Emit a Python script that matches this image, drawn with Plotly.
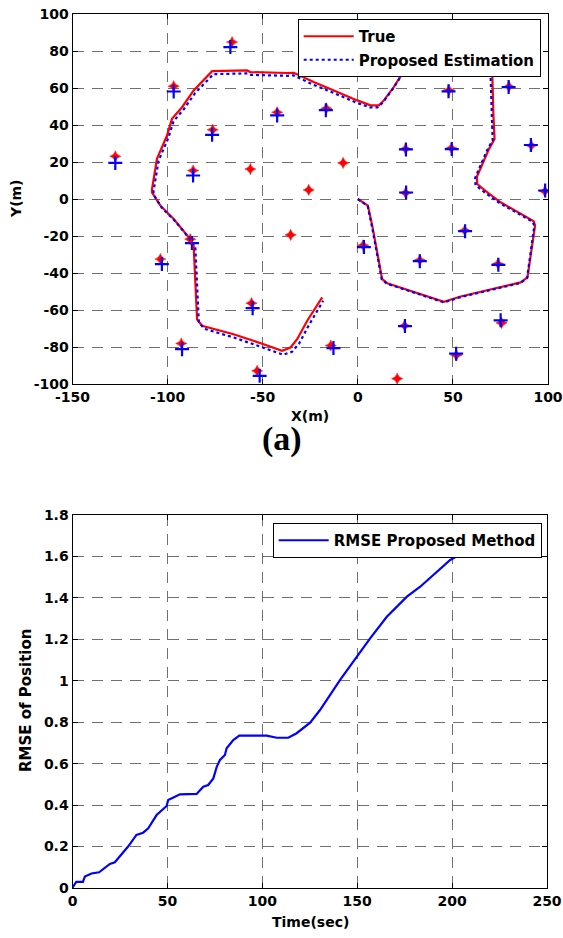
import plotly.graph_objects as go

# ---------------- data: trajectory (top panel) ----------------
true_x = [0, 5.3, 7.6, 10.2, 12.8, 15.5, 45.3, 54.1, 85.6, 89.2, 93.2, 92.5, 75.1, 68.1, 62.8,
          62.6, 69.0, 71.9, 71.3, 70.7, 70.5, 62.0, 35.0, 26.0, 23.4, 18.9, 13.7, 11.1, 6.7,
          -0.3, -12.6, -23.2, -33.7, -37.2, -56.5, -58.2, -76.6, -82.8, -86.3, -92.4, -97.7,
          -100.3, -105.6, -108.2, -108.2, -103.8, -96.8, -88.1, -86.3, -85.4, -84.5, -81.9,
          -65.3, -49.5, -39.8, -35.4, -31.9, -26.6, -18.7]
true_y = [0, -3.6, -14.4, -28.9, -43.3, -45.5, -55.6, -52.7, -45.1, -42.4, -14.4, -12.0, -1.8,
          3.6, 8.1, 12.0, 27.1, 32.5, 45.2, 67.7, 74.0, 80.0, 78.0, 72.0, 67.7, 60.5, 53.3,
          50.6, 50.6, 53.3, 58.7, 63.2, 68.2, 68.1, 68.6, 69.5, 69.1, 62.3, 58.7, 49.6, 43.3,
          34.3, 21.7, 5.4, 3.6, -3.6, -10.8, -21.7, -25.2, -45.1, -65.0, -68.5, -73.1, -78.5,
          -82.1, -80.3, -75.8, -65.8, -53.2]

est_x = [0, 5.2, 7.4, 10.0, 12.6, 15.4, 45.3, 54.1, 85.5, 89.0, 92.8, 92.0, 74.6, 67.4, 61.9,
         61.7, 68.0, 70.9, 70.4, 69.8, 69.6, 61.0, 34.5, 25.5, 22.9, 18.4, 13.2, 10.4, 6.3,
         -0.6, -12.8, -23.4, -33.8, -37.0, -56.2, -57.8, -75.9, -82.0, -85.5, -91.6, -96.9,
         -99.6, -104.8, -107.4, -107.4, -103.0, -96.0, -87.2, -85.4, -84.5, -83.6, -80.9,
         -64.8, -49.0, -39.3, -34.6, -30.9, -25.6, -18.2]
est_y = [0, -3.8, -14.6, -29.1, -43.5, -45.8, -55.9, -53.0, -45.4, -42.7, -14.6, -12.3, -2.2,
         3.0, 7.5, 11.4, 26.4, 31.8, 44.5, 67.0, 73.2, 79.0, 76.8, 70.8, 66.5, 59.5, 52.2,
         49.5, 49.5, 52.0, 57.4, 61.8, 66.8, 66.6, 67.1, 67.9, 67.5, 61.0, 57.3, 48.4, 42.0,
         33.0, 20.5, 4.2, 2.4, -4.8, -12.0, -23.0, -26.6, -46.5, -66.4, -70.1, -75.0, -80.6,
         -84.2, -82.6, -78.2, -68.0, -55.0]

# landmarks
lm_true_x = [-127.5, -96.8, -66.1, -76.3, -86.6, -56.5, -42.4, -16.5, -7.7, -25.8, 25.1, 49.2,
             47.9, 79.5, 91.3, 98.3, 25.1, -88.1, -103.8, -92.8, -55.9, -52.9, -35.3, 2.8,
             32.6, 56.2, 73.7, 75.6, 24.6, 51.8, -14.2, 20.7]
lm_true_y = [23.1, 61.0, 84.8, 37.4, 15.4, 16.2, 46.9, 49.0, 19.5, 4.9, 27.1, 27.5, 58.9, 60.8,
             28.9, 4.2, 3.3, -21.7, -32.5, -78.1, -56.3, -92.9, -19.4, -25.0, -33.0, -17.0,
             -35.0, -67.0, -68.5, -84.5, -79.2, -97.1]
lm_est_x = [-127.5, -96.8, -67.0, -76.6, -86.6, -42.4, -16.8, 25.3, 49.4, 47.7, 79.3, 91.0,
            98.5, 25.4, -87.2, -103.0, -92.4, -55.3, -51.6, 3.2, 32.6, 56.4, 73.9, 75.1, 24.8,
            51.7, -12.8]
lm_est_y = [19.5, 58.1, 82.1, 34.7, 12.7, 45.2, 48.0, 26.8, 27.0, 58.2, 60.5, 29.2, 4.6, 3.5,
            -23.8, -35.2, -81.2, -59.0, -95.6, -26.0, -33.6, -17.4, -35.6, -65.6, -68.7, -83.6,
            -80.6]

# ---------------- data: RMSE (bottom panel) ----------------
rmse_t = [0, 0.3, 2, 5.5, 6.5, 10, 14, 19.7, 22.3, 25.8, 29.3, 33.7, 37.2, 39.9, 44.3, 49.6,
          50.4, 54, 56.6, 65.4, 68.9, 71.5, 74.2, 76, 77.7, 80.3, 81.2, 84.7, 87.9, 102.3,
          107.6, 113.7, 118.1, 125.2, 130.4, 141, 149.3, 156.8, 165.6, 176.2, 183.2, 190,
          199, 205.2, 212]
rmse_v = [0, 0.006, 0.03, 0.03, 0.055, 0.07, 0.076, 0.116, 0.124, 0.16, 0.2, 0.256, 0.267,
          0.288, 0.352, 0.396, 0.425, 0.44, 0.452, 0.454, 0.489, 0.497, 0.529, 0.585, 0.618,
          0.642, 0.674, 0.714, 0.735, 0.735, 0.725, 0.725, 0.747, 0.798, 0.859, 1.004, 1.11,
          1.205, 1.309, 1.406, 1.454, 1.51, 1.583, 1.615, 1.655]

x1_ticks = [-150, -100, -50, 0, 50, 100]
x1_text = ["-150", "-100", "-50", "0", "50", "100"]
y1_ticks = [-100, -80, -60, -40, -20, 0, 20, 40, 60, 80, 100]
y1_text = ["-100", "-80", "-60", "-40", "-20", "0", "20", "40", "60", "80", "100"]
x2_ticks = [0, 50, 100, 150, 200, 250]
y2_ticks = [0, 0.2, 0.4, 0.6, 0.8, 1, 1.2, 1.4, 1.6, 1.8]
y2_text = ["0", "0.2", "0.4", "0.6", "0.8", "1", "1.2", "1.4", "1.6", "1.8"]

W, H = 563, 938
FONT = "DejaVu Sans, Liberation Sans, Arial, sans-serif"
LBL = dict(family=FONT, size=14, color="black", weight="bold")
LEG = dict(family=FONT, size=15, color="black", weight="bold")

fig = go.Figure()

fig.add_trace(go.Scatter(x=lm_true_x, y=lm_true_y, mode="markers", showlegend=False,
                         marker=dict(symbol="star-diamond", size=8, color="#ff0000",
                                     line=dict(width=0.5, color="#ff0000")),
                         xaxis="x", yaxis="y"))
fig.add_trace(go.Scatter(x=lm_est_x, y=lm_est_y, mode="markers", showlegend=False,
                         marker=dict(symbol="cross-thin-open", size=10, color="#0000ff",
                                     line=dict(width=2.2, color="#0000ff")),
                         xaxis="x", yaxis="y"))
fig.add_trace(go.Scatter(x=true_x, y=true_y, mode="lines", name="True",
                         line=dict(color="#ff0000", width=2.2), legend="legend",
                         legendgroup="g1", xaxis="x", yaxis="y"))
fig.add_trace(go.Scatter(x=est_x, y=est_y, mode="lines", name="Proposed Estimation",
                         line=dict(color="#0000ff", width=2.2, dash="dot"), legend="legend",
                         legendgroup="g2", xaxis="x", yaxis="y"))
fig.add_trace(go.Scatter(x=rmse_t, y=rmse_v, mode="lines", name="RMSE Proposed Method",
                         line=dict(color="#0000ff", width=2.2), legend="legend2",
                         xaxis="x2", yaxis="y2"))

axis_common = dict(showline=True, linecolor="black", linewidth=1, mirror="ticks",
                   ticks="inside", ticklen=5, tickcolor="black", showgrid=True,
                   gridcolor="#707070", gridwidth=1, griddash="11px,8px", zeroline=False,
                   automargin=False, tickfont=LBL)

fig.update_layout(
    template="none",
    width=W, height=H, margin=dict(l=0, r=0, t=0, b=0, pad=0), autosize=False,
    paper_bgcolor="white", plot_bgcolor="white",
    xaxis=dict(domain=[72.5 / W, 548 / W], range=[-150, 100], tickmode="array",
               tickvals=x1_ticks, ticktext=x1_text, anchor="y", **axis_common),
    yaxis=dict(domain=[1 - 384 / H, 1 - 14 / H], range=[-100, 100], tickmode="array",
               tickvals=y1_ticks, ticktext=y1_text, anchor="x", **axis_common),
    xaxis2=dict(domain=[72.5 / W, 547 / W], range=[0, 250], tickmode="array",
                tickvals=x2_ticks, anchor="y2", **axis_common),
    yaxis2=dict(domain=[1 - 888 / H, 1 - 515 / H], range=[0, 1.8], tickmode="array",
                tickvals=y2_ticks, ticktext=y2_text, anchor="x2", **axis_common),
    legend=dict(x=540.7 / W, y=1 - 19 / H, xanchor="right", yanchor="top",
                bgcolor="white", bordercolor="black", borderwidth=1, font=LEG,
                itemwidth=50, traceorder="grouped", tracegroupgap=1),
    legend2=dict(x=541.7 / W, y=1 - 523 / H, xanchor="right", yanchor="top",
                 bgcolor="white", bordercolor="black", borderwidth=1, font=LEG,
                 itemwidth=50),
    annotations=[
        dict(text="X(m)", x=310 / W, y=1 - 416 / H, xref="paper", yref="paper",
             xanchor="center", yanchor="middle", showarrow=False, font=LBL),
        dict(text="Y(m)", x=16 / W, y=1 - 199 / H, xref="paper", yref="paper", textangle=-90,
             xanchor="center", yanchor="middle", showarrow=False, font=LBL),
        dict(text="(a)", x=282 / W, y=1 - 439 / H, xref="paper", yref="paper",
             xanchor="center", yanchor="middle", showarrow=False,
             font=dict(family="Liberation Serif, Times New Roman, serif", size=34,
                       color="black", weight="bold")),
        dict(text="Time(sec)", x=310 / W, y=1 - 922 / H, xref="paper", yref="paper",
             xanchor="center", yanchor="middle", showarrow=False, font=LBL),
        dict(text="RMSE of Position", x=26 / W, y=1 - 701 / H, xref="paper", yref="paper",
             textangle=-90, xanchor="center", yanchor="middle", showarrow=False,
             font=dict(family=FONT, size=15, color="black", weight="bold")),
    ],
)

fig.write_html("out.html")
